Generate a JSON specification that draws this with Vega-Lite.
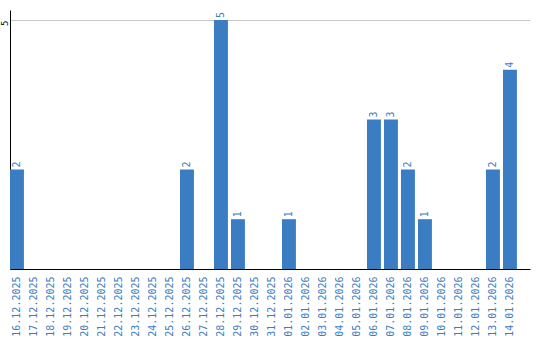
{
  "$schema": "https://vega.github.io/schema/vega-lite/v6.json",
  "width": 520,
  "height": 259,
  "padding": {"left": 10, "top": 10, "right": 10, "bottom": 71},
  "autosize": {"type": "none"},
  "background": "white",
  "config": {"view": {"stroke": null}, "font": "DejaVu Sans Mono"},
  "data": {"values": [
    {"d": "16.12.2025", "v": 2},
    {"d": "17.12.2025", "v": 0},
    {"d": "18.12.2025", "v": 0},
    {"d": "19.12.2025", "v": 0},
    {"d": "20.12.2025", "v": 0},
    {"d": "21.12.2025", "v": 0},
    {"d": "22.12.2025", "v": 0},
    {"d": "23.12.2025", "v": 0},
    {"d": "24.12.2025", "v": 0},
    {"d": "25.12.2025", "v": 0},
    {"d": "26.12.2025", "v": 2},
    {"d": "27.12.2025", "v": 0},
    {"d": "28.12.2025", "v": 5},
    {"d": "29.12.2025", "v": 1},
    {"d": "30.12.2025", "v": 0},
    {"d": "31.12.2025", "v": 0},
    {"d": "01.01.2026", "v": 1},
    {"d": "02.01.2026", "v": 0},
    {"d": "03.01.2026", "v": 0},
    {"d": "04.01.2026", "v": 0},
    {"d": "05.01.2026", "v": 0},
    {"d": "06.01.2026", "v": 3},
    {"d": "07.01.2026", "v": 3},
    {"d": "08.01.2026", "v": 2},
    {"d": "09.01.2026", "v": 1},
    {"d": "10.01.2026", "v": 0},
    {"d": "11.01.2026", "v": 0},
    {"d": "12.01.2026", "v": 0},
    {"d": "13.01.2026", "v": 2},
    {"d": "14.01.2026", "v": 4}
  ]},
  "encoding": {
    "x": {
      "field": "d", "type": "nominal", "sort": null,
      "scale": {"paddingInner": 0.18, "paddingOuter": 0.385, "align": 0},
      "axis": {"title": null, "labelAngle": -90, "labelColor": "#3b7dc2", "labelFontSize": 10, "labelPadding": 7, "ticks": false, "domainColor": "#000000", "domainWidth": 1, "grid": false}
    },
    "y": {
      "field": "v", "type": "quantitative",
      "scale": {"domain": [0, 5.2], "nice": false},
      "axis": {"title": null, "values": [5], "labelAngle": -90, "labelAlign": "right", "labelBaseline": "bottom", "labelFontSize": 9, "labelColor": "#000000", "labelPadding": 1, "ticks": false, "domainColor": "#000000", "domainWidth": 1, "grid": true, "gridColor": "#c8c8c8", "gridWidth": 1}
    }
  },
  "layer": [
    {"mark": {"type": "bar", "color": "#3b7dc2"}},
    {
      "transform": [{"filter": "datum.v > 0"}],
      "mark": {"type": "text", "angle": -90, "align": "left", "baseline": "middle", "dx": 2, "color": "#3b7dc2", "fontSize": 10},
      "encoding": {"text": {"field": "v", "type": "quantitative"}}
    }
  ]
}
